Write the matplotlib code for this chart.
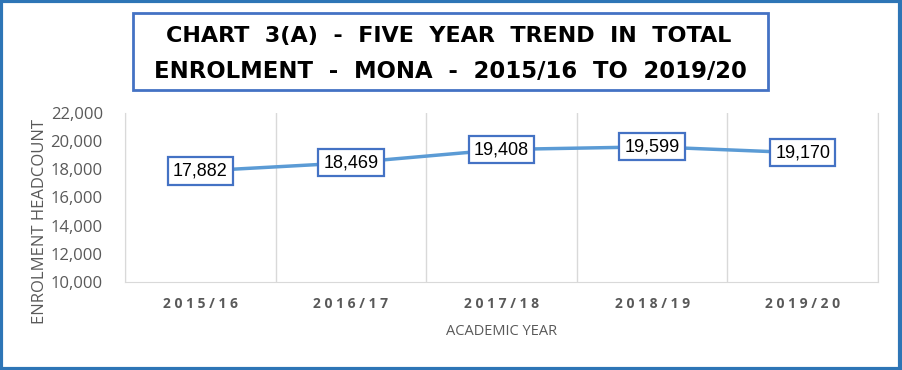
import matplotlib.pyplot as plt
from matplotlib.patches import Rectangle
from matplotlib.ticker import FuncFormatter

years = ["2015/16", "2016/17", "2017/18", "2018/19", "2019/20"]
enrolment = [17882, 18469, 19408, 19599, 19170]
y_ticks = [10000, 12000, 14000, 16000, 18000, 20000, 22000]

GREY = "#595959"
LINE = "#5B9BD5"
BOX = "#4472C4"

plt.rcParams["font.family"] = ["Open Sans", "DejaVu Sans"]

fig = plt.figure(figsize=(9.02, 3.70), dpi=100)
W, H = 902, 370
ax = fig.add_axes([125 / W, 1 - 282 / H, (878 - 125) / W, (282 - 113) / H])

x = list(range(len(years)))
ax.plot(x, enrolment, color=LINE, lw=2.5, solid_capstyle="round", zorder=2)
for xi, v in zip(x, enrolment):
    ax.text(xi, v, f"{v:,}", ha="center", va="center", fontsize=13,
            fontfamily=["Liberation Sans", "DejaVu Sans"], color="black", zorder=3,
            bbox=dict(boxstyle="square,pad=0.28", fc="white", ec=BOX, lw=1.6))

ax.set_xlim(-0.5, len(years) - 0.5)
ax.set_ylim(y_ticks[0], y_ticks[-1])
ax.set_yticks(y_ticks)
ax.yaxis.set_major_formatter(FuncFormatter(lambda v, p: f"{int(v):,}"))
ax.set_xticks(x)
# Excel-style letter spacing on category labels
ax.set_xticklabels([" ".join(y) for y in years], fontweight="bold", fontsize=10, color=GREY)
ax.set_xticks([i + 0.5 for i in range(-1, len(years))], minor=True)
ax.grid(axis="x", which="minor", color="#D9D9D9", lw=1)
ax.tick_params(axis="both", which="both", length=0)
ax.tick_params(axis="y", labelsize=12, labelcolor=GREY, pad=16)
ax.tick_params(axis="x", pad=11)
ax.spines["top"].set_visible(False)
for s in ["left", "right", "bottom"]:
    ax.spines[s].set_color("#D9D9D9")

ax.set_ylabel("ENROLMENT HEADCOUNT", fontsize=12, color=GREY)
ax.yaxis.set_label_coords((48 - 125) / 753, (282 - 222) / 169)
ax.set_xlabel("ACADEMIC YEAR", fontsize=10.5, color=GREY)
ax.xaxis.set_label_coords(0.5, -(324 - 282) / 169)

# title box
fig.patches.append(Rectangle((133 / W, 1 - 90 / H), (768 - 133) / W, (90 - 13) / H,
                             transform=fig.transFigure, fc="white", ec=BOX, lw=2))
fig.text(449 / W, 1 - 36 / H, "CHART  3(A)  -  FIVE  YEAR  TREND  IN  TOTAL",
         ha="center", va="center", fontsize=16, fontweight="bold",
         fontfamily="DejaVu Sans")
fig.text(450 / W, 1 - 71 / H, "ENROLMENT  -  MONA  -  2015/16  TO  2019/20",
         ha="center", va="center", fontsize=16.4, fontweight="bold",
         fontfamily="DejaVu Sans")

# outer border
fig.patches.append(Rectangle((0.001, 0.002), 0.997, 0.995, transform=fig.transFigure,
                             fill=False, ec="#2E75B6", lw=3))

fig.savefig("out.png", dpi=100)
